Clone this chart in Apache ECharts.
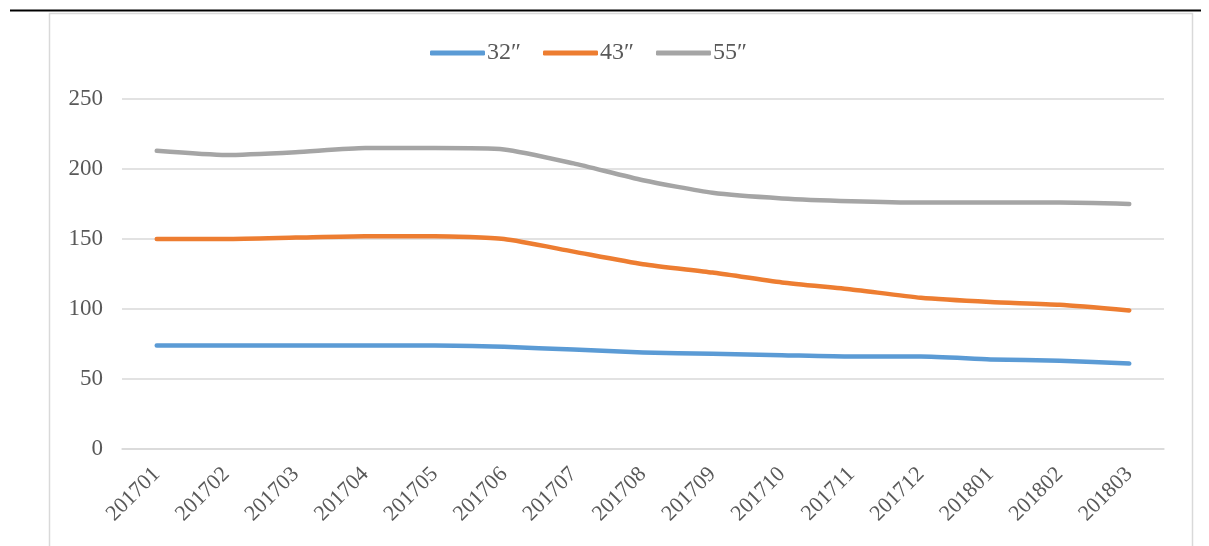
<!DOCTYPE html>
<html><head><meta charset="utf-8">
<script src="https://cdn.jsdelivr.net/npm/echarts@6/dist/echarts.min.js"></script>
<style>html,body{margin:0;padding:0;background:#fff}#c{width:1209px;height:546px}</style>
</head><body><div id="c"></div>
<script>
const categories = ['201701','201702','201703','201704','201705','201706','201707','201708','201709','201710','201711','201712','201801','201802','201803'];
const s32 = [74,74,74,74,74,73,71,69,68,67,66,66,64,63,61];
const s43 = [150,150,151,152,152,150,141,132,126,119,114,108,105,103,99];
const s55 = [213,210,212,215,215,214,204,192,183,179,177,176,176,176,175];
const seriesNames = ['32″','43″','55″'];
const colors = ['#5B9BD5','#ED7D31','#A5A5A5'];
const font = '"Liberation Serif","DejaVu Serif",serif';
const chart = echarts.init(document.getElementById('c'));
const mk = (name, data, color) => ({
  name, type:'line', data, smooth:0.2, symbol:'none',
  lineStyle:{width:4.5, color, cap:'round', join:'round'}, itemStyle:{color}
});
chart.setOption({
  animation:false,
  color:colors,
  graphic:[
    {type:'rect', shape:{x:49.5,y:13.5,width:1143,height:560}, style:{fill:'none',stroke:'#D9D9D9',lineWidth:1.5}, silent:true},
    {type:'line', shape:{x1:10,y1:10.5,x2:1201,y2:10.5}, style:{stroke:'#000',lineWidth:2}, silent:true}
  ],
  legend:{
    top:36, left:425, itemWidth:55, itemHeight:5, itemGap:22,
    icon:'roundRect',
    textStyle:{fontFamily:font, fontSize:24, color:'#595959', padding:[0,0,0,-3]},
    data:seriesNames
  },
  grid:{left:122, right:45, top:99, bottom:97},
  xAxis:{
    type:'category', data:categories, boundaryGap:true,
    axisLine:{show:true, lineStyle:{color:'#D9D9D9', width:1.5}},
    axisTick:{show:false},
    axisLabel:{rotate:45, margin:22, fontFamily:font, fontSize:22, color:'#595959', interval:0}
  },
  yAxis:{
    type:'value', min:0, max:250, interval:50,
    axisLine:{show:false}, axisTick:{show:false},
    splitLine:{lineStyle:{color:'#D9D9D9', width:1.5}},
    axisLabel:{margin:19, fontFamily:font, fontSize:23, color:'#595959'}
  },
  series:[mk(seriesNames[0], s32, colors[0]), mk(seriesNames[1], s43, colors[1]), mk(seriesNames[2], s55, colors[2])]
});
</script></body></html>
